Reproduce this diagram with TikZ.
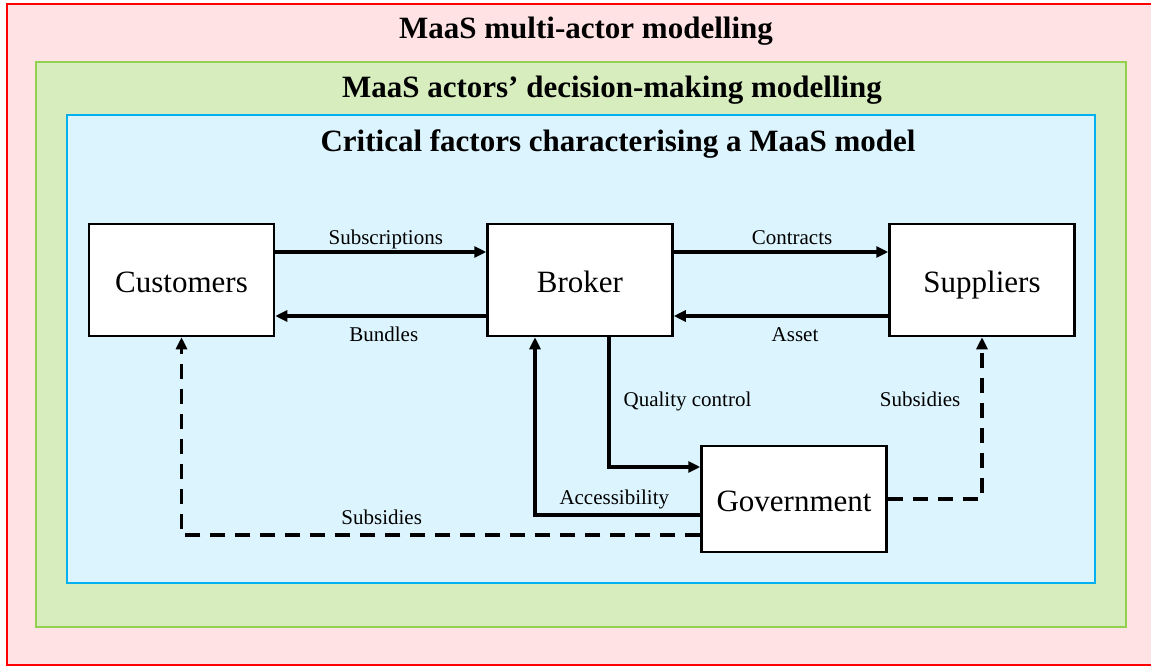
\documentclass[tikz,border=0pt]{standalone}
\usepackage{fontspec}
\setmainfont{Liberation Serif}
\usetikzlibrary{arrows.meta,calc}

\definecolor{outerred}{RGB}{255,0,0}
\definecolor{outerfill}{RGB}{255,226,228}
\definecolor{midgreen}{RGB}{146,208,80}
\definecolor{midfill}{RGB}{215,237,190}
\definecolor{innerblue}{RGB}{0,176,240}
\definecolor{innerfill}{RGB}{220,244,254}

\tikzset{
  actor/.style={draw, fill=white, line width=2.5pt, minimum width=185pt,
    minimum height=112pt, inner sep=0pt, text height=24pt, text depth=0pt,
    font=\fontsize{31}{36}\selectfont},
  flow/.style={line width=3.2pt, -{Triangle[length=12pt,width=11pt]}},
  subsidy/.style={flow, dash pattern=on 15pt off 10pt},
  flowlabel/.style={font=\fontsize{21}{24}\selectfont, inner sep=0pt,
    text height=15pt, text depth=5pt},
  frametitle/.style={font=\bfseries\fontsize{31}{36}\selectfont, anchor=base}
}

\begin{document}
\begin{tikzpicture}[x=1pt,y=-1pt]
  \useasboundingbox (0,0) rectangle (1151,666);

  % nested frames
  \filldraw[fill=outerfill, draw=outerred, line width=2.5pt] (7,4) rectangle (1165,665);
  \filldraw[fill=midfill, draw=midgreen, line width=2.5pt] (36,62) rectangle (1126,627);
  \filldraw[fill=innerfill, draw=innerblue, line width=2.5pt] (67,115) rectangle (1095,583);

  \node[frametitle] (titleouter) at (586,39) {MaaS multi-actor modelling};
  \node[frametitle] (titlemid) at (612,98) {MaaS actors’ decision-making modelling};
  \node[frametitle] (titleinner) at (618,151) {Critical factors characterising a MaaS model};

  % actors
  \node[actor] (cust) at (181.5,280) {Customers};
  \node[actor] (broker) at (580,280) {Broker};
  \node[actor] (supp) at (982,280) {Suppliers};
  \node[actor, minimum height=106pt] (gov) at (794,499) {Government};

  % flows between actors
  \draw[flow] ([yshift=28pt]cust.east) -- node[flowlabel, above=0.5pt, xshift=5pt] {Subscriptions} ([yshift=28pt]broker.west);
  \draw[flow] ([yshift=-36pt]broker.west) -- node[flowlabel, below=9pt, xshift=3pt] {Bundles} ([yshift=-36pt]cust.east);
  \draw[flow] ([yshift=28pt]broker.east) -- node[flowlabel, above=0.5pt, xshift=11pt] {Contracts} ([yshift=28pt]supp.west);
  \draw[flow] ([yshift=-36pt]supp.west) -- node[flowlabel, below=9pt, xshift=14pt] {Asset} ([yshift=-36pt]broker.east);

  \draw[flow] ([xshift=29pt]broker.south) |- node[flowlabel, pos=0.265, anchor=base west, xshift=13pt] {Quality control} ([yshift=32pt]gov.west);
  \draw[flow] ([yshift=-16pt]gov.west) -| node[flowlabel, pos=0.26, above=4pt] {Accessibility} ([xshift=-45pt]broker.south);

  % subsidies
  \draw[subsidy] ([yshift=-36pt]gov.west) -| node[flowlabel, pos=0.307, above=4pt] {Subsidies} (cust.south);
  \draw[subsidy] (gov.east) -| node[flowlabel, pos=0.786, anchor=base east, xshift=-20pt] {Subsidies} (supp.south);
\end{tikzpicture}
\end{document}
